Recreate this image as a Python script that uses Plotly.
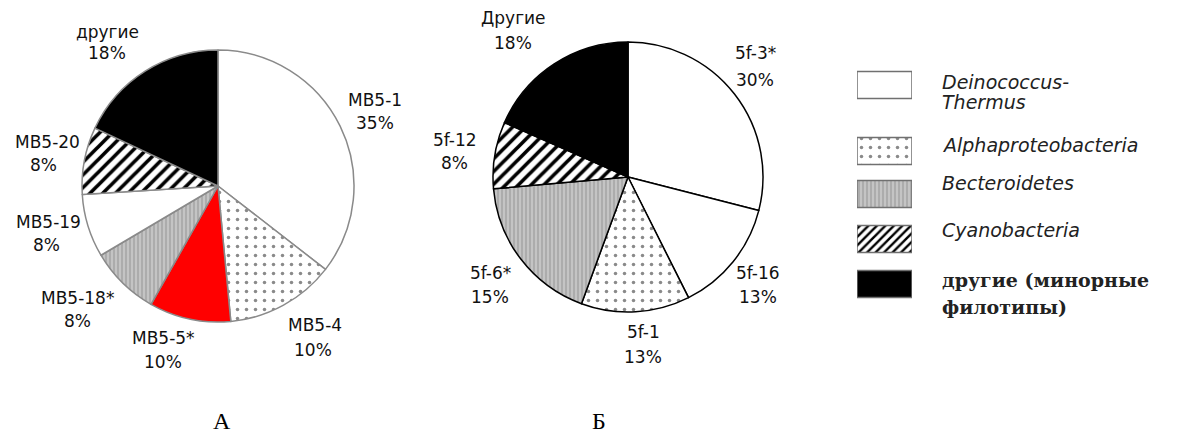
import plotly.graph_objects as go

# pie A (MB5 clones)
labels_a = ["MB5-1", "MB5-4", "MB5-5*", "MB5-18*", "MB5-19", "MB5-20", "другие"]
shares_a = [35.5, 13.0, 9.7, 8.3, 7.5, 8.0, 18.0]
pct_a = ["35%", "10%", "10%", "8%", "8%", "8%", "18%"]
group_a = ["deino", "alpha", "red", "bact", "deino", "cyano", "other"]

# pie B (5f clones)
labels_b = ["5f-3*", "5f-16", "5f-1", "5f-6*", "5f-12", "Другие"]
shares_b = [29.0, 13.6, 13.0, 18.0, 8.0, 18.4]
pct_b = ["30%", "13%", "13%", "15%", "8%", "18%"]
group_b = ["deino", "deino", "alpha", "bact", "cyano", "other"]

# legend
legend_keys = ["deino", "alpha", "bact", "cyano", "other"]
legend_names = [["<i>Deinococcus-</i>", "<i>Thermus</i>"], ["<i>Alphaproteobacteria</i>"],
                ["<i>Becteroidetes</i>"], ["<i>Cyanobacteria</i>"],
                ["<b>другие (минорные</b>", "<b>филотипы)</b>"]]
swatch = [1, 1, 1, 1, 1]

W, H = 1196, 439
OFF = 8  # page body margin, shifts the whole plot

style = {
    "deino": dict(color="white", shape="", fg="white", bg="white", size=8, sol=0.2),
    "alpha": dict(color="white", shape=".", fg="#8a8a8a", bg="white", size=9, sol=0.12),
    "bact": dict(color="#bdbdbd", shape="|", fg="#9c9c9c", bg="#c4c4c4", size=4, sol=0.3),
    "cyano": dict(color="white", shape="/", fg="black", bg="white", size=9, sol=0.4),
    "other": dict(color="black", shape="", fg="black", bg="black", size=8, sol=0.2),
    "red": dict(color="#ff0000", shape="", fg="#ff0000", bg="#ff0000", size=8, sol=0.2),
}


def px_x(x):
    return (x - OFF) / W


def px_y(y):
    return 1 - (y - OFF) / H


def marker_for(groups, line_color):
    return dict(
        colors=[style[g]["color"] for g in groups],
        line=dict(color=line_color, width=1.5),
        pattern=dict(shape=[style[g]["shape"] for g in groups],
                     fgcolor=[style[g]["fg"] for g in groups],
                     bgcolor=[style[g]["bg"] for g in groups],
                     size=[style[g]["size"] for g in groups],
                     solidity=[style[g]["sol"] for g in groups],
                     fillmode="replace"),
    )


def px_dom(x0, x1, y0, y1):
    return dict(x=[px_x(x0), px_x(x1)], y=[px_y(y1), px_y(y0)])


fig = go.Figure()
fig.add_trace(go.Pie(labels=labels_a, values=shares_a, sort=False, direction="clockwise",
                     rotation=0, textinfo="none", hoverinfo="label+percent", showlegend=False,
                     marker=marker_for(group_a, "#8a8a8a"), domain=px_dom(82, 354, 50, 322)))
fig.add_trace(go.Pie(labels=labels_b, values=shares_b, sort=False, direction="clockwise",
                     rotation=0, textinfo="none", hoverinfo="label+percent", showlegend=False,
                     marker=marker_for(group_b, "black"), domain=px_dom(493, 763, 42, 312)))

# legend swatches drawn as bars on a hidden axis (y axis in page pixels)
swatch_y = [85, 151, 194, 239, 284]
for k, v, yy in zip(legend_keys, swatch, swatch_y):
    s = style[k]
    fig.add_trace(go.Bar(orientation="h", x=[v], y=[yy - OFF], base=0, width=27,
                         showlegend=False, hoverinfo="skip",
                         marker=dict(color=s["color"], line=dict(color="#707070", width=1.5),
                                     pattern=dict(shape=s["shape"], fgcolor=s["fg"], bgcolor=s["bg"],
                                                  size=6 if k == "cyano" else s["size"],
                                                  solidity=s["sol"], fillmode="replace"))))

annotations = []


def note(text, x, y, size=17, family="DejaVu Sans", color="#111", xanchor="center"):
    annotations.append(dict(text=text, x=px_x(x), y=px_y(y), xref="paper", yref="paper",
                            showarrow=False, xanchor=xanchor, yanchor="middle",
                            font=dict(family=family, size=size, color=color)))


pos_a = [(375, 100, 375, 123), (315, 325, 313, 350), (163, 338, 163, 362), (77, 298, 77, 321),
         (48, 222, 46, 245), (47, 142, 43, 165), (107, 32, 107, 53)]
for lab, pc, (x1, y1, x2, y2) in zip(labels_a, pct_a, pos_a):
    note(lab, x1, y1)
    note(pc, x2, y2)

pos_b = [(755, 53, 755, 80), (758, 273, 758, 297), (643, 332, 643, 357), (490, 273, 490, 297),
         (455, 140, 455, 163), (513, 18, 513, 43)]
for lab, pc, (x1, y1, x2, y2) in zip(labels_b, pct_b, pos_b):
    note(lab, x1, y1)
    note(pc, x2, y2)

legend_text_y = [[82, 102], [145], [183], [230], [280, 307]]
for k, names, ys in zip(legend_keys, legend_names, legend_text_y):
    for t, yy in zip(names, ys):
        if k == "other":
            note(t, 940, yy, size=19, family="DejaVu Serif", color="#222", xanchor="left")
        else:
            note(t, 940, yy, size=19, color="#222", xanchor="left")

note("А", 222, 421, size=24, family="Liberation Serif", color="black")
note("Б", 599, 421, size=24, family="Liberation Serif", color="black")

fig.update_layout(
    width=W, height=H, autosize=False,
    margin=dict(l=0, r=0, t=0, b=0),
    paper_bgcolor="white", plot_bgcolor="white",
    xaxis=dict(domain=[px_x(857), px_x(912)], range=[0, 1], visible=False, fixedrange=True),
    yaxis=dict(domain=[0, 1], range=[H, 0], visible=False, fixedrange=True),
    annotations=annotations,
)

fig.write_html("out.html")
